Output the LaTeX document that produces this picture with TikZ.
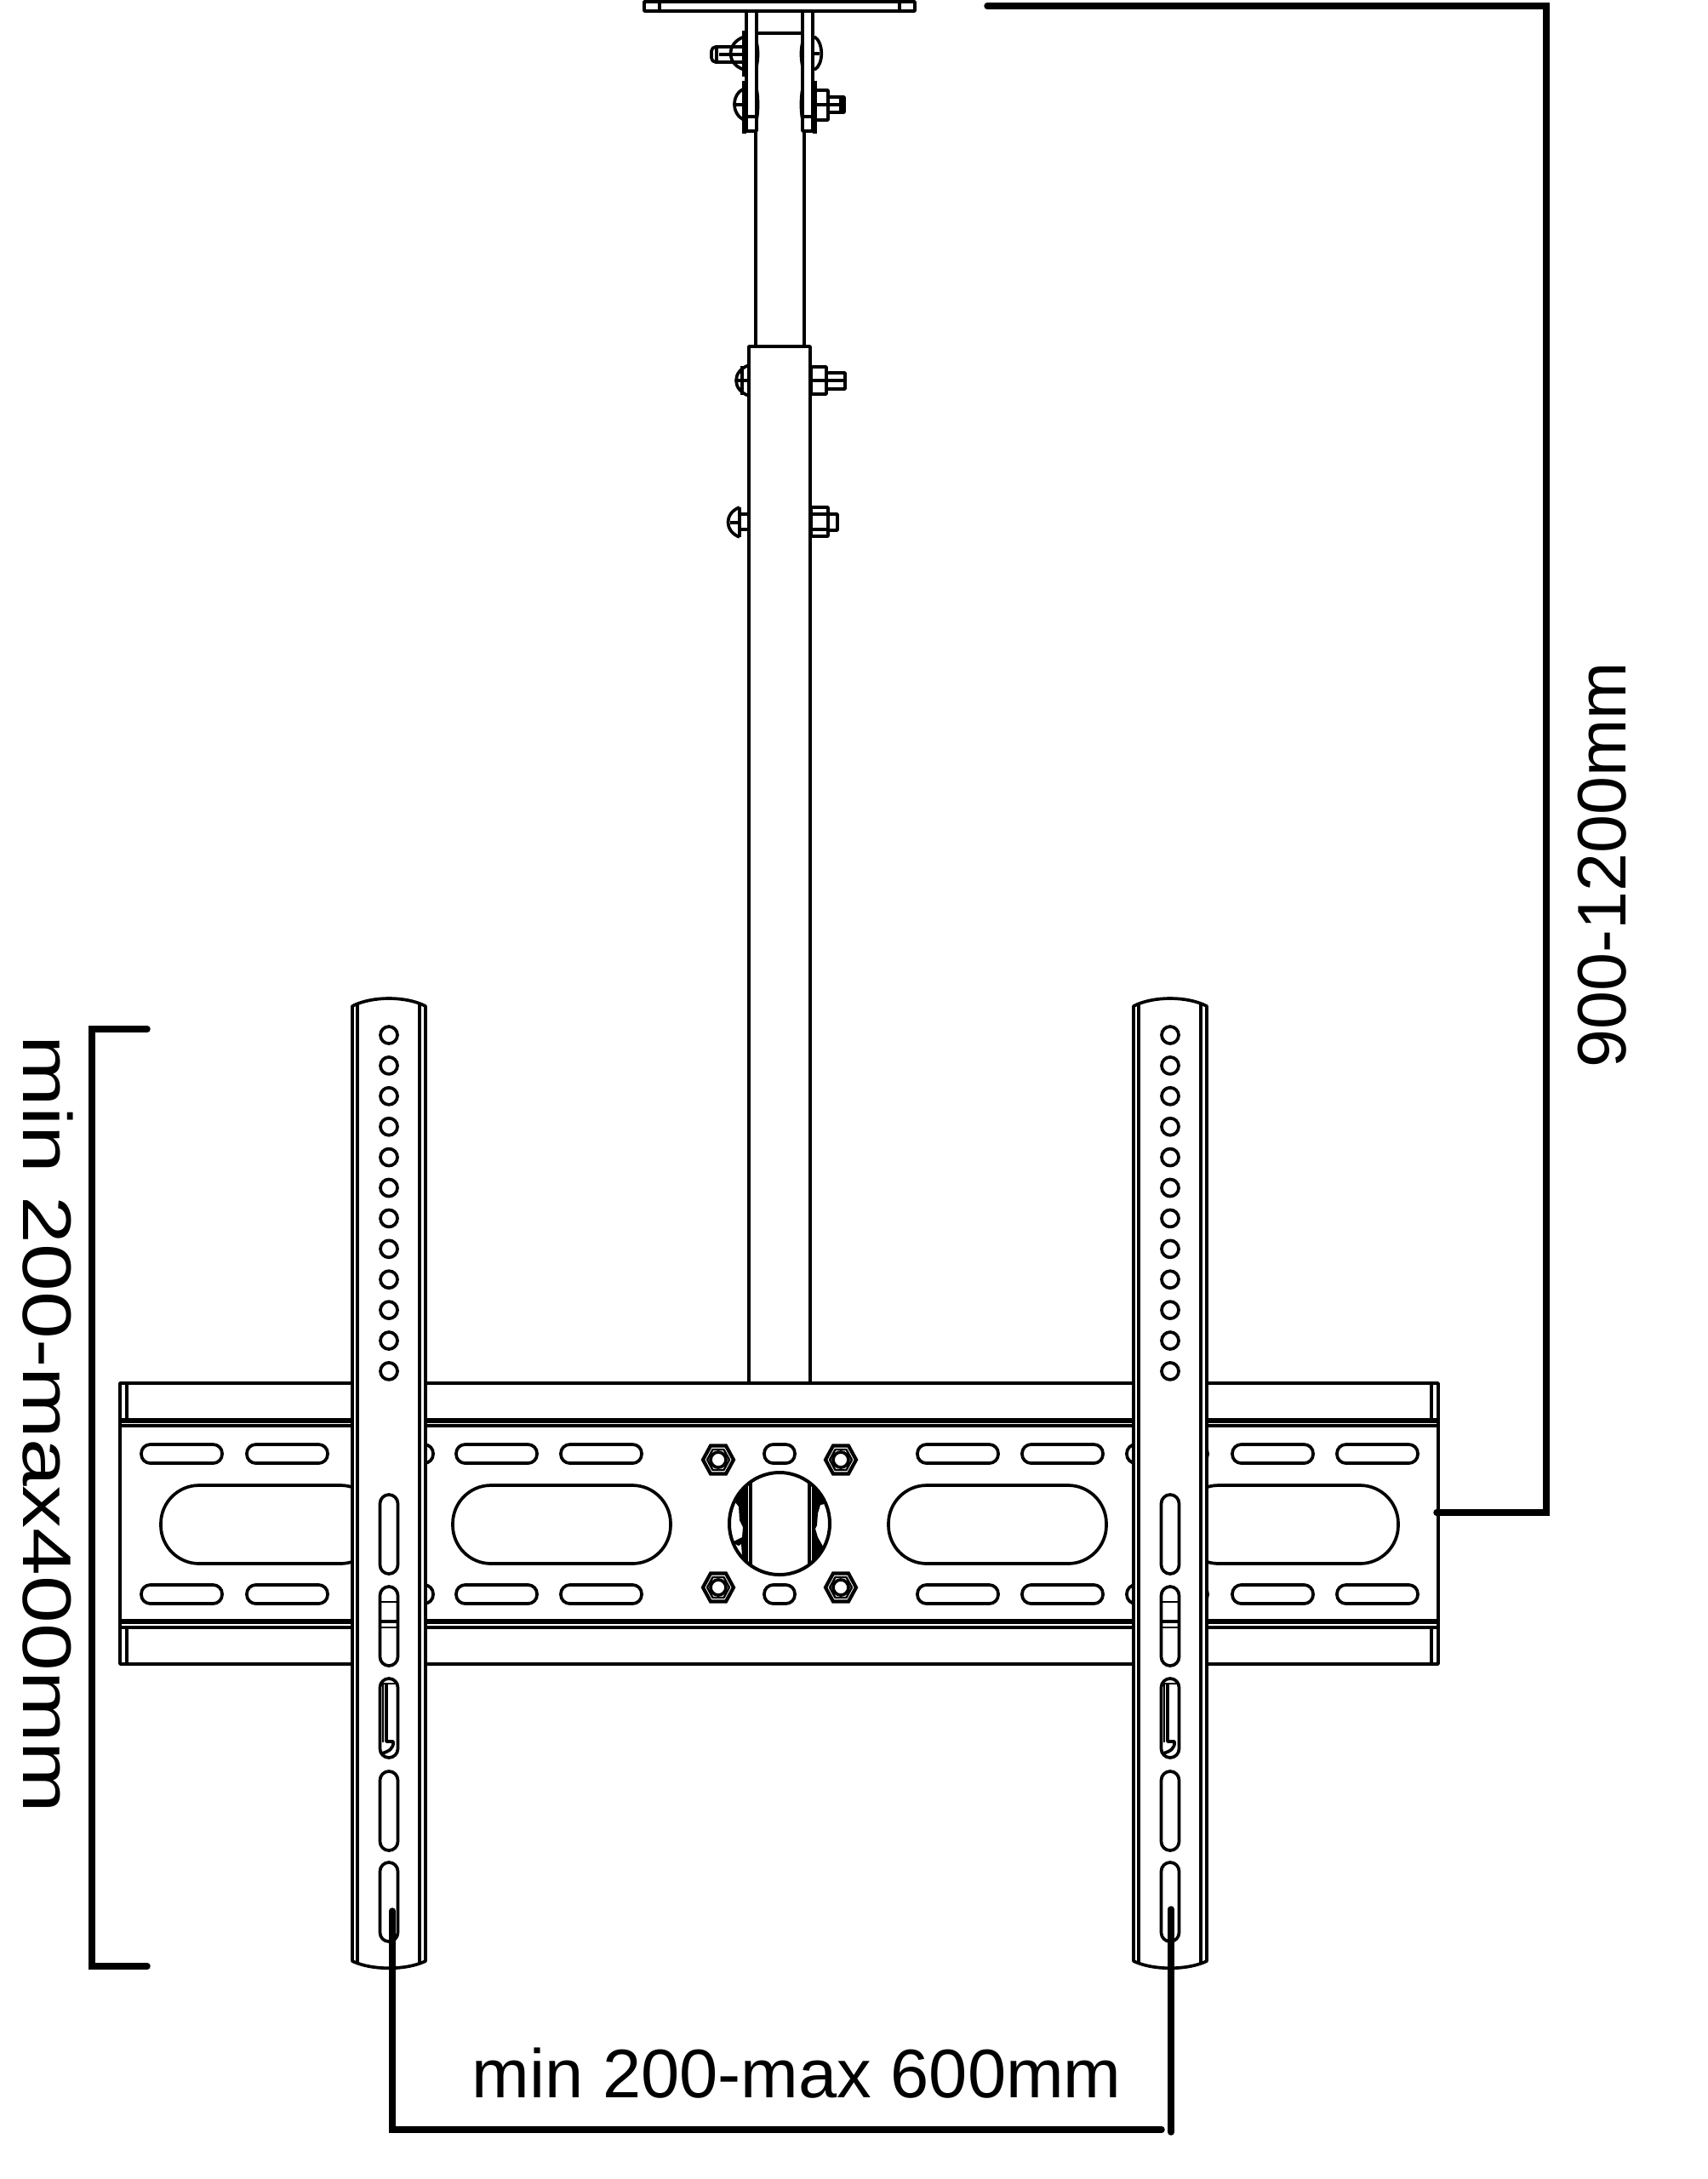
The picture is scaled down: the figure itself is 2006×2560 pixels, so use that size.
\documentclass[tikz,border=0pt]{standalone}
\usepackage{fontspec}
\setmainfont{Liberation Sans}
\usetikzlibrary{positioning, calc}
\tikzset{
    partline/.style={draw=black, line width=0.37mm, line join=round},
    thinline/.style={draw=black, line width=0.24mm, line join=round},
    heavyline/.style={draw=black, line width=0.65mm},
    dimline/.style={draw=black, line width=0.75mm, line cap=round, line join=miter},
    dimlabel/.style={inner sep=0pt, font=\fontsize{23}{27}\selectfont},
    hexnut/.pic={
        \draw[heavyline, line width=0.42mm, fill=white] (18,0) -- (9,16.5) -- (-9,16.5) -- (-18,0) -- (-9,-16.5) -- (9,-16.5) -- cycle;
        \draw[thinline] (13,0) -- (6.5,12) -- (-6.5,12) -- (-13,0) -- (-6.5,-12) -- (6.5,-12) -- cycle;
        \draw[partline] (0,0) circle[radius=9];
    },
    railmount/.pic={
        \draw[partline, fill=white] (-43,2304) -- (-43,1182) .. controls (-20,1170) and (20,1170) .. (43,1182)
            -- (43,2304) .. controls (20,2315) and (-20,2315) .. cycle;
        \draw[partline] (-37,1179) -- (-37,2308);
        \draw[partline] (36,1179) -- (36,2308);
        \foreach \i in {0,...,11}
            \draw[partline] (0,1216+35.9*\i) circle[radius=10];
        \foreach \y in {1756,1864,1972,2081,2188}
            \draw[partline, rounded corners=1.05mm] (-10.5,\y) rectangle (10.5,\y+93);
        \draw[thinline] (-10.5,1882) -- (10.5,1882);
        \draw[partline] (-10.5,1905) -- (10.5,1905);
        \draw[thinline] (-10.5,1912) -- (10.5,1912);
        \draw[thinline] (-8,1978) -- (8,1978);
        \draw[thinline] (-7,1978) -- (-7,2047);
        \draw[partline] (-3,1978) -- (-3,2046) -- (5,2046) .. controls (6,2054) and (0,2058) .. (-9,2060);
    },
}
\begin{document}
\begin{tikzpicture}[x=0.1mm, y=-0.1mm]
    \useasboundingbox (0,0) rectangle (2006,2560);

    \draw[partline] (757,2) rectangle (1075,13);
    \draw[partline] (775,2) -- (775,13) (1057,2) -- (1057,13);
    \draw[partline] (888,154) -- (888,407) (945,154) -- (945,407);
    \draw[partline] (889,39) -- (943,39);
    \draw[partline] (877,13) rectangle (889,154);
    \draw[partline] (943,13) rectangle (955,154);
    \draw[partline] (877,137) -- (889,137) (943,137) -- (955,137);
    \draw[heavyline] (875,36) -- (875,90) (875,95) -- (875,154) -- (877,154);
    \draw[heavyline] (957,95) -- (957,154) -- (955,154);
    \draw[partline] (889,50) .. controls (891,58) and (891,68) .. (889,78);
    \draw[partline] (889,105) .. controls (891,113) and (891,133) .. (889,140);
    \draw[partline] (943,50) .. controls (941,58) and (941,68) .. (943,78);
    \draw[partline] (943,105) .. controls (941,113) and (941,133) .. (943,140);

    \draw[partline] (875,43) .. controls (853,50) and (853,76) .. (875,82);
    \draw[partline, rounded corners=0.5mm] (860,55) -- (836,55) -- (836,73) -- (860,73);
    \draw[partline] (845,64) -- (875,64) (842,55) -- (842,73) (860,55) -- (875,55) (860,73) -- (875,73);
    \draw[partline] (957,43) .. controls (968,50) and (968,76) .. (957,82);
    \draw[partline] (957,63) -- (963,63);
    \draw[partline] (875,104) .. controls (859,110) and (859,135) .. (875,141);
    \draw[partline] (864,123) -- (875,123);
    \draw[partline] (957,106) rectangle (973,141);
    \draw[partline] (957,123) -- (973,123);
    \draw[partline] (973,114) rectangle (992,132);
    \draw[partline] (973,123) -- (988,123) (988,114) -- (988,132);

    \draw[partline] (880,1625) -- (880,407) -- (952,407) -- (952,1625);

    \draw[partline] (880,429) .. controls (860,436) and (860,458) .. (880,465);
    \draw[partline] (865,447) -- (880,447) (872,430) -- (872,464);
    \draw[partline] (953,431) rectangle (971,463);
    \draw[partline] (953,447) -- (971,447);
    \draw[partline] (971,438) rectangle (993,457);
    \draw[partline] (971,447) -- (993,447);
    \draw[partline] (869,596) .. controls (851,603) and (851,624) .. (869,631);
    \draw[partline] (858,614) -- (869,614) (869,596) -- (869,631);
    \draw[partline] (869,604) -- (880,604) (869,622) -- (880,622);
    \draw[partline] (953,596) rectangle (973,630);
    \draw[partline] (953,604) -- (973,604) (953,622) -- (973,622);
    \draw[partline] (973,604) rectangle (984,623);

    \draw[partline] (141,1625) rectangle (1690,1955);
    \draw[partline] (149,1625) -- (149,1668) (1682,1625) -- (1682,1668);
    \draw[partline] (149,1912) -- (149,1955) (1682,1912) -- (1682,1955);
    \draw[heavyline] (141,1669) -- (1690,1669) (141,1905) -- (1690,1905);
    \draw[partline] (141,1675) -- (1690,1675) (141,1912) -- (1690,1912);

    \foreach \y in {1708,1873}{
        \foreach \x in {166,290,414,536,659,1078,1201,1324,1448,1571}
            \draw[partline, rounded corners=1.05mm] (\x,\y-11) rectangle (\x+95,\y+11);
        \draw[partline, rounded corners=1.05mm] (898,\y-11) rectangle (934,\y+11);
    }
    \foreach \x in {189,532,1044,1387}
        \draw[partline, rounded corners=4.5mm] (\x,1745) rectangle (\x+256,1837);

    \foreach \x in {844,988}
        \foreach \y in {1715,1865}
            \pic (nut\x\y) at (\x,\y) {hexnut};

    \begin{scope}
        \clip (916,1790) ellipse [x radius=59, y radius=60];
        \fill[black] (877,1735) -- (860,1760) -- (868,1770) -- (869,1786) -- (873,1794) -- (872,1806) -- (860,1812) -- (868,1816) -- (871,1814) -- (872,1828) -- (868,1826) -- (877,1845) -- cycle;
        \fill[black] (956,1735) -- (974,1766) -- (964,1768) -- (961,1778) -- (960,1792) -- (958,1796) -- (961,1806) -- (970,1822) -- (964,1834) -- (956,1845) -- cycle;
        \draw[partline] (882,1725) -- (882,1855) (951,1725) -- (951,1855);
        \draw[partline] (877,1725) -- (877,1855) (956,1725) -- (956,1855);
    \end{scope}
    \draw[partline, line width=0.4mm] (916,1790) ellipse [x radius=59, y radius=60];

    \pic (railleft) at (457,0) {railmount};
    \pic (railright) at (1375,0) {railmount};

    \coordinate (dropstart) at (1160,7);
    \coordinate (dropend) at (1688,1777);
    \coordinate (dropcorner) at (1817,7);
    \draw[dimline] (dropstart) -- (dropcorner) |- (dropend);

    \coordinate (heighttop) at (173,1209);
    \coordinate (heightbottom) at (173,2310);
    \draw[dimline] (heighttop) -- (108,1209) -- (108,2310) -- (heightbottom);

    \coordinate (spanleft) at (461,2245);
    \coordinate (spanright) at (1365,2502);
    \coordinate (spanrighttop) at (1376,2243);
    \coordinate (spanrightbottom) at (1376,2505);
    \draw[dimline] (spanleft) |- (spanright);
    \draw[dimline] (spanrighttop) -- (spanrightbottom);

    \node[dimlabel, anchor=base west] (spanlabel) at (554,2464) {\scalebox{1.005}[1]{min 200-max 600mm}};
    \node[dimlabel, anchor=base east, rotate=90] (droplabel) at (1910,777) {900-1200mm};
    \node[dimlabel, anchor=base west, rotate=-90] (heightlabel) at (28,1216) {\scalebox{1.24}[1]{min 200-max400mm}};
\end{tikzpicture}
\end{document}
